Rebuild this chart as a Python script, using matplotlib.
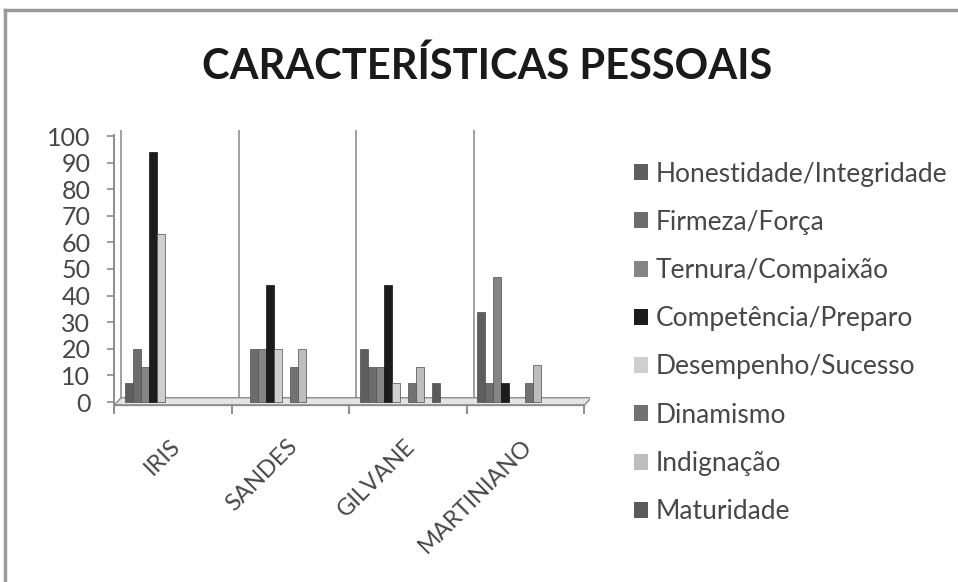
import matplotlib
matplotlib.use("Agg")
import matplotlib.pyplot as plt
from matplotlib.patches import Polygon, Patch
from matplotlib.lines import Line2D

plt.rcParams['font.family'] = ['Lato', 'DejaVu Sans']

# ---- data ----
categories = ["IRIS", "SANDES", "GILVANE", "MARTINIANO"]
series_names = ["Honestidade/Integridade", "Firmeza/Força", "Ternura/Compaixão",
                "Competência/Preparo", "Desempenho/Sucesso", "Dinamismo",
                "Indignação", "Maturidade"]
honestidade = [7, 0, 20, 34]
firmeza = [20, 20, 13, 7]
ternura = [13, 20, 13, 47]
competencia = [94, 44, 44, 7]
desempenho = [63, 20, 7, 0]
dinamismo = [0, 13, 7, 7]
indignacao = [0, 20, 13, 14]
maturidade = [0, 0, 7, 0]
y_ticks = list(range(0, 101, 10))

series_values = [honestidade, firmeza, ternura, competencia, desempenho,
                 dinamismo, indignacao, maturidade]

# ---- style ----
colors = ['#5e5e5e', '#6c6c6c', '#858585', '#1c1c1c', '#cfcfcf', '#727272',
          '#bdbdbd', '#5a5a5a']
slot_index = [0, 1, 2, 3, 4, 6, 7, 9]
slot_w = 0.068
group_offset = 0.09
wall_dx = 0.06
text_col = '#474747'

W, H = 958, 582
fig = plt.figure(figsize=(W / 100, H / 100), dpi=100)
fig.patch.set_facecolor('white')

# axes placement in pixels
left_px, right_px = 114, 590
y0_px, px_per_unit = 402, 2.66
ymin, ymax = -2, 103
bottom_px = y0_px - ymin * px_per_unit
top_px = y0_px - ymax * px_per_unit
ax = fig.add_axes([left_px / W, (H - bottom_px) / H,
                   (right_px - left_px) / W, (bottom_px - top_px) / H])
ax.set_xlim(0, 4.05)
ax.set_ylim(ymin, ymax)
ax.patch.set_alpha(0)

# floor (3D look)
floor = Polygon([(0, -1.3), (4.0, -1.3), (4.0 + wall_dx, 1.6), (wall_dx, 1.6)],
                closed=True, facecolor='#e4e4e4', edgecolor='#8c8c8c', lw=1.0, zorder=1)
ax.add_patch(floor)

# back wall dividers & side wall
for i in range(5):
    ax.plot([i + wall_dx, i + wall_dx], [1.6, 102], color='#a0a0a0', lw=1.4, zorder=0.5)

# bars
for s, (vals, col) in enumerate(zip(series_values, colors)):
    xs = [c + group_offset + slot_index[s] * slot_w for c in range(len(categories))]
    bars = ax.bar(xs, vals, width=slot_w, align='edge', color=col,
                  edgecolor='#4d4d4d' if col != '#1c1c1c' else '#111111',
                  linewidth=0.5, zorder=3)
    for b, v in zip(bars, vals):
        if v == 0:
            b.set_linewidth(0)

# spines / ticks
for sp in ['top', 'right', 'bottom']:
    ax.spines[sp].set_visible(False)
ax.spines['left'].set_color('#8c8c8c')
ax.spines['left'].set_linewidth(1.4)
ax.spines['left'].set_bounds(-1.3, 100.5)
ax.set_yticks(y_ticks)
ax.set_yticklabels([str(t) for t in y_ticks], fontsize=18, color=text_col)
ax.tick_params(axis='y', length=5, width=1.2, color='#8c8c8c', pad=12)

ax.set_xticks(range(5))
ax.set_xticklabels([])
ax.tick_params(axis='x', length=0)
for i in range(5):
    ax.plot([i, i], [-1.3, -4.0], color='#8c8c8c', lw=1.4, clip_on=False, zorder=2)
ax.plot([0, 4.0], [-1.3, -1.3], color='#8c8c8c', lw=1.2, clip_on=False, zorder=2)

# category labels
for i, name in enumerate(categories):
    ax.annotate(name, xy=(i + 0.47, ymin), xycoords='data',
                xytext=(0, -20), textcoords='offset points',
                rotation=45, ha='right', va='top', fontsize=17,
                color=text_col, rotation_mode='anchor')

# title
fig.text(487 / W, 1 - 66 / H, "CARACTERÍSTICAS PESSOAIS", ha='center', va='center',
         fontsize=30, fontweight='bold', color='#1a1a1a')

# legend
handles = [Patch(facecolor=c, edgecolor='none') for c in colors]
leg = fig.legend(handles, series_names, loc='upper left',
                 bbox_to_anchor=(623 / W, 1 - 151 / H), frameon=False,
                 fontsize=19, handlelength=0.55, handleheight=0.55,
                 handletextpad=0.3, labelspacing=0.88, borderaxespad=0)
for t in leg.get_texts():
    t.set_color(text_col)

# outer border (top and left visible)
fig.add_artist(Line2D([5 / W, 5 / W], [0, 1 - 10 / H], color='#999999', lw=2.5,
                      transform=fig.transFigure))
fig.add_artist(Line2D([5 / W, 1], [1 - 10 / H, 1 - 10 / H], color='#999999', lw=2.5,
                      transform=fig.transFigure))

fig.savefig('out.png', dpi=100, facecolor='white')
